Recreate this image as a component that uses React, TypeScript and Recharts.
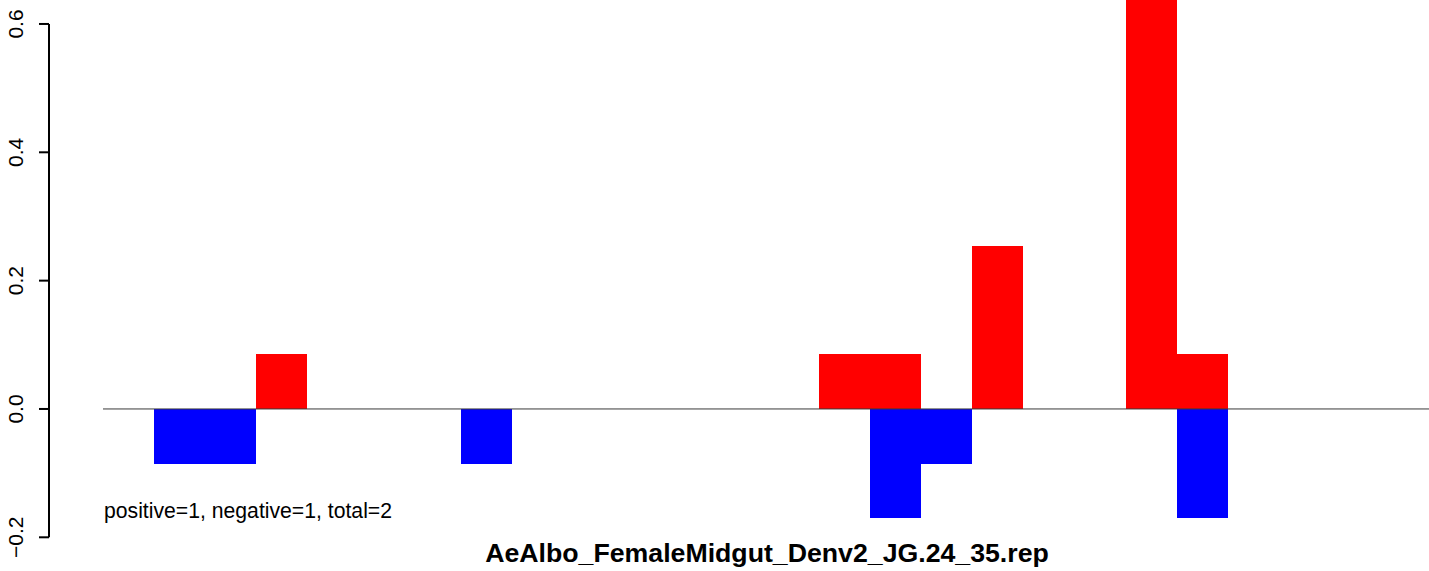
import React from 'react';
import { BarChart, Bar, XAxis, YAxis, ReferenceLine } from 'recharts';

// one slot per bar position, left to right
const slots = ['1', '2', '3', '4', '5', '6', '7', '8', '9', '10', '11', '12', '13',
  '14', '15', '16', '17', '18', '19', '20', '21', '22', '23', '24', '25', '26'];
const positive = [0, 0, 0, 0.085, 0, 0, 0, 0, 0, 0, 0, 0, 0,
  0, 0.085, 0.085, 0, 0.254, 0, 0, 0.68, 0.085, 0, 0, 0, 0];
const negative = [0, -0.085, -0.085, 0, 0, 0, 0, -0.085, 0, 0, 0, 0, 0,
  0, 0, -0.17, -0.085, 0, 0, 0, 0, -0.17, 0, 0, 0, 0];
const yTicks = [-0.2, 0, 0.2, 0.4, 0.6];

const TITLE = 'AeAlbo_FemaleMidgut_Denv2_JG.24_35.rep';
const NOTE = 'positive=1, negative=1, total=2';
const FONT = '"Liberation Sans", Arial, Helvetica, sans-serif';

const data = slots.map((s, i) => ({ slot: s, positive: positive[i], negative: negative[i] }));

const fmt = (v: number) => (v < 0 ? '\u2212' : '') + Math.abs(v).toFixed(1);

const YTick = (props: any) => {
  const { x, y, payload } = props;
  const bx = x - 14;
  return (
    <text x={bx} y={y} transform={`rotate(-90 ${bx} ${y})`} textAnchor="middle"
      fontFamily={FONT} fontSize={21} fill="#000">
      {fmt(payload.value)}
    </text>
  );
};

const Title = (props: any) => {
  const { x, y, width } = props.viewBox;
  return (
    <text x={x + width / 2} y={y + 24.4} textAnchor="middle" fontFamily={FONT}
      fontSize={26.7} fontWeight="bold" fill="#000">
      {TITLE}
    </text>
  );
};

const App: React.FC = () => {
  return (
    <div style={{ position: 'absolute', left: 0, top: 0, width: 1429, height: 571, overflow: 'hidden', background: '#fff' }}>
      <div style={{ position: 'absolute', left: 0, top: -60 }}>
        <BarChart width={1485} height={631} data={data} barCategoryGap={0} barGap={0}
          stackOffset="sign" margin={{ top: 19.8, right: 0, bottom: 0, left: 0 }}>
          <XAxis dataKey="slot" tick={false} axisLine={false} tickLine={false} height={33.7}
            padding={{ left: 54, right: 52.4 }} label={Title} />
          {/* helper axes for the zero line and the y axis line */}
          <XAxis xAxisId="slots" type="number" domain={[0, 26]} hide allowDataOverflow
            padding={{ left: 54, right: 52.4 }} />
          <XAxis xAxisId="frame" type="number" domain={[0, 1]} hide allowDataOverflow />
          <YAxis width={49} type="number" domain={[-0.2, 0.7]} ticks={yTicks} allowDataOverflow
            axisLine={false} tickSize={10} tickLine={{ stroke: '#000', strokeWidth: 2 }} tick={YTick} />
          <Bar dataKey="positive" stackId="a" fill="#FF0000" shapeRendering="crispEdges" isAnimationActive={false} />
          <Bar dataKey="negative" stackId="a" fill="#0000FF" shapeRendering="crispEdges" isAnimationActive={false} />
          <ReferenceLine xAxisId="slots" segment={[{ x: 0, y: 0 }, { x: 26, y: 0 }]}
            stroke="#3a3a3a" strokeWidth={1} ifOverflow="visible" />
          <ReferenceLine xAxisId="frame" segment={[{ x: 0, y: -0.2 }, { x: 0, y: 0.6 }]}
            stroke="#000" strokeWidth={2} ifOverflow="visible" />
        </BarChart>
      </div>
      <div style={{ position: 'absolute', left: 104, top: 500, fontFamily: FONT, fontSize: 21.2,
        lineHeight: '21px', whiteSpace: 'nowrap', color: '#000' }}>
        {NOTE}
      </div>
    </div>
  );
};

export default App;
